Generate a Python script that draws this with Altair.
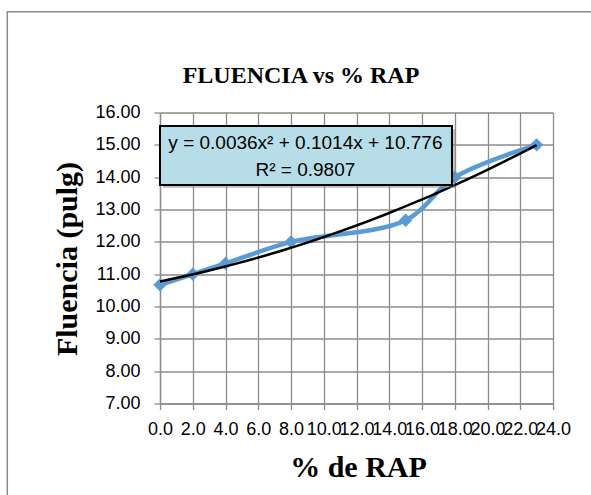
import altair as alt
import pandas as pd

# ---- data ----
rap = [0.0, 2.0, 4.0, 8.0, 15.0, 18.0, 23.0]
fluencia = [10.67, 11.0, 11.33, 12.0, 12.67, 14.0, 15.0]

x_ticks = [0, 2, 4, 6, 8, 10, 12, 14, 16, 18, 20, 22, 24]
y_ticks = [7, 8, 9, 10, 11, 12, 13, 14, 15, 16]

chart_title = ["FLUENCIA vs % RAP"]

eq_lines = ["y = 0.0036x² + 0.1014x + 10.776", "R² = 0.9807"]
eq_x = [8.88, 8.88]
eq_y = [15.06, 14.22]

box_x = [0.0, 17.83]
box_y = [15.58, 13.76]

BLUE = "#5B9BD5"
GRID = "#8c8c8c"
SANS = "Liberation Sans"
SERIF = "Liberation Serif"

df = pd.DataFrame({"rap": rap, "fluencia": fluencia})
eq_df = pd.DataFrame({"rap": eq_x, "fluencia": eq_y, "label": eq_lines})
box_df = pd.DataFrame({"rap": [box_x[0]], "rap2": [box_x[1]],
                       "fluencia": [box_y[0]], "fluencia2": [box_y[1]]})
title_df = pd.DataFrame({"label": chart_title})

x_enc = alt.X(
    "rap:Q",
    scale=alt.Scale(domain=[0, 24], nice=False, zero=False),
    axis=alt.Axis(
        values=x_ticks, format=".1f", title="% de RAP",
        labelOverlap=False, labelFlush=False, labelFont=SANS, labelFontSize=18,
        labelColor="black", labelPadding=11,
        tickSize=6, tickColor=GRID, tickWidth=1.3,
        domainColor=GRID, domainWidth=1.3,
        grid=True, gridColor=GRID, gridWidth=1.3, gridOpacity=1,
        titleFont=SERIF, titleFontSize=30, titleFontWeight="bold", titleColor="black",
        titleX=198, titleY=64, titleAlign="center", titleBaseline="middle",
    ),
)
y_enc = alt.Y(
    "fluencia:Q",
    scale=alt.Scale(domain=[7, 16], nice=False, zero=False),
    axis=alt.Axis(
        values=y_ticks, format=".2f", title="Fluencia (pulg)",
        labelOverlap=False, labelFlush=False, labelFont=SANS, labelFontSize=18,
        labelColor="black", labelPadding=14,
        tickSize=6, tickColor=GRID, tickWidth=1.3,
        domainColor=GRID, domainWidth=1.3,
        grid=True, gridColor=GRID, gridWidth=1.3, gridOpacity=1,
        titleFont=SERIF, titleFontSize=30, titleFontWeight="bold", titleColor="black",
        titleAngle=270, titleX=-93, titleY=146, titleAlign="center", titleBaseline="middle",
    ),
)

border = alt.Chart(pd.DataFrame({"k": [0]})).mark_rect(
    fill="transparent", stroke="#8a8a8a", strokeWidth=1.5
).encode(
    x=alt.value(-152.7), x2=alt.value(700),
    y=alt.value(-100.8), y2=alt.value(700),
)

title_txt = alt.Chart(title_df).mark_text(
    font=SERIF, fontSize=24, fontWeight="bold", color="black",
    align="center", baseline="alphabetic"
).encode(x=alt.value(141), y=alt.value(-29.5), text="label:N")

series = alt.Chart(df).mark_line(
    interpolate="catmull-rom", color=BLUE, strokeWidth=4.5
).encode(x=x_enc, y=y_enc)

points = alt.Chart(df).mark_point(
    shape="diamond", filled=True, size=180, color=BLUE, opacity=1
).encode(x=x_enc, y=y_enc)

trend = alt.Chart(df).transform_regression(
    "rap", "fluencia", method="poly", order=2
).mark_line(color="black", strokeWidth=2.5).encode(x=x_enc, y=y_enc)

shadow = alt.Chart(box_df).mark_rect(
    fill="#7f7f7f", opacity=0.45, xOffset=3, yOffset=3, x2Offset=3, y2Offset=3
).encode(x=x_enc, x2="rap2:Q", y=y_enc, y2="fluencia2:Q")

box = alt.Chart(box_df).mark_rect(
    fill="#B7DEE8", stroke="black", strokeWidth=2
).encode(x=x_enc, x2="rap2:Q", y=y_enc, y2="fluencia2:Q")

eq_text = alt.Chart(eq_df).mark_text(
    font=SANS, fontSize=19, color="black", align="center", baseline="middle"
).encode(x=x_enc, y=y_enc, text="label:N")

chart = alt.layer(
    border, title_txt, series, points, trend, shadow, box, eq_text
).properties(
    width=393, height=291,
    autosize=alt.AutoSizeParams(type="none"),
    padding={"left": 160, "top": 112.5, "right": 38, "bottom": 91.5},
).configure_view(stroke=None).configure(background="white")

chart.save("out.html", embed_options={"renderer": "svg", "actions": False})
